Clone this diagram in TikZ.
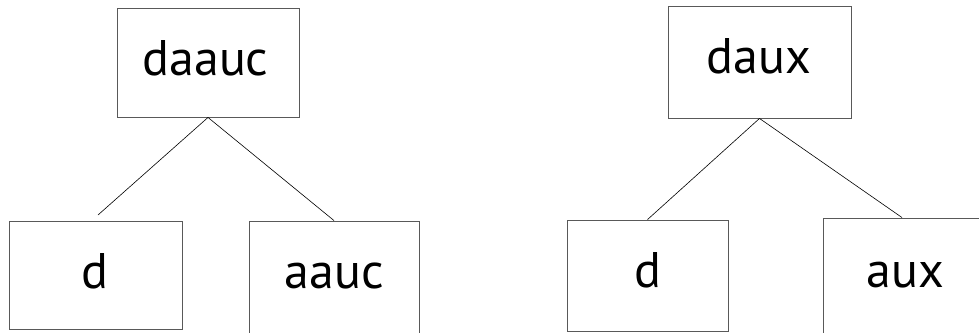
\documentclass[tikz,border=0pt]{standalone}
\usepackage{fontspec}
\setmainfont{PT Sans}
\tikzset{
  box/.style={draw=black!65, line width=0.9pt, inner sep=0pt, fill=none},
  lbl/.style={anchor=base, inner sep=0pt, font=\fontsize{50}{60}\selectfont},
  edge/.style={draw=black, line width=0.6pt}
}
\begin{document}
\begin{tikzpicture}[x=1pt, y=-1pt]
\useasboundingbox (0,0) rectangle (979,332);
% left tree
\node[box, minimum width=182pt, minimum height=109pt] (t1) at (208,62.5) {};
\node[box, minimum width=173pt, minimum height=108pt] (l1) at (95.5,275) {};
\node[box, minimum width=170pt, minimum height=113pt] (r1) at (334,277.5) {};
\node[lbl] (t1txt) at (205.5,75) {daauc};
\node[lbl] (l1txt) at (95,288) {d};
\node[lbl] (r1txt) at (334,288) {aauc};
\coordinate (l1end) at (98,215);
\draw[edge] (t1.south) -- (l1end);
\draw[edge] (t1.south) -- (r1.north);
% right tree
\node[box, minimum width=183pt, minimum height=112pt] (t2) at (759.5,62) {};
\node[box, minimum width=161pt, minimum height=111pt] (l2) at (647.5,275.5) {};
\node[box, minimum width=158pt, minimum height=116pt] (r2) at (902,276) {};
\node[lbl] (t2txt) at (759,73) {daux};
\node[lbl] (l2txt) at (647.5,287) {d};
\node[lbl] (r2txt) at (905.5,287) {aux};
\draw[edge] (t2.south) -- (l2.north);
\draw[edge] (t2.south) -- (r2.north);
\end{tikzpicture}
\end{document}
